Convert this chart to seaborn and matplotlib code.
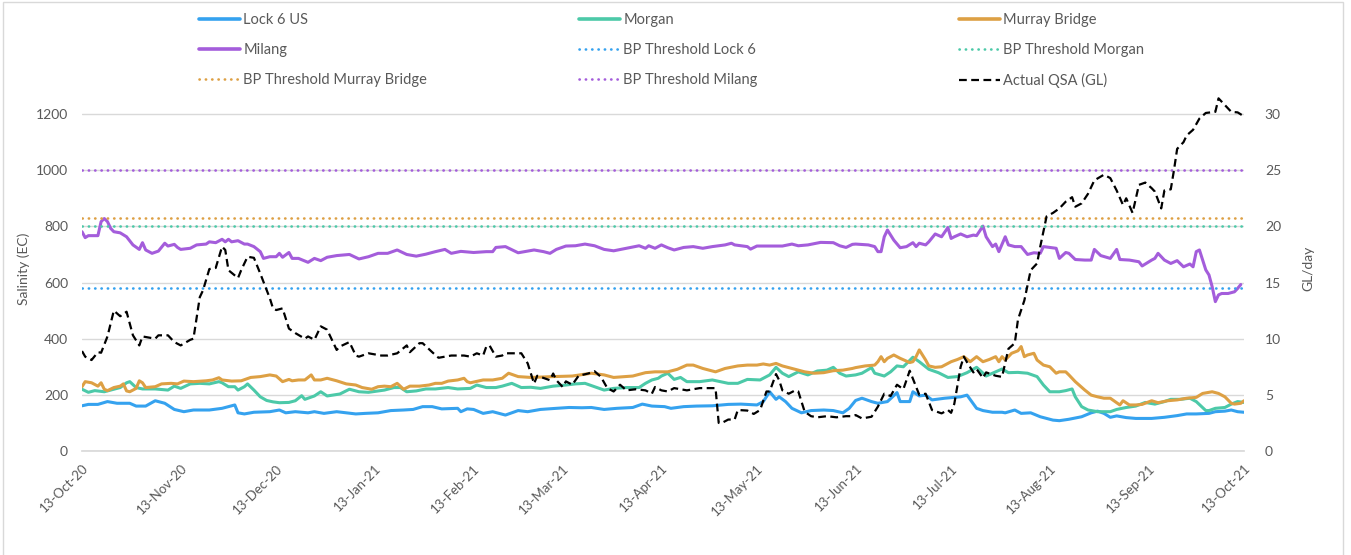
import pandas as pd
import seaborn as sns
import matplotlib
matplotlib.use("Agg")
import matplotlib.pyplot as plt
from matplotlib.lines import Line2D
from matplotlib.patches import Rectangle

sns.set_theme(style="white")
plt.rcParams["font.family"] = ["Lato", "DejaVu Sans"]

START = pd.Timestamp("2020-10-13")

# days since 13-Oct-20 and salinity (EC)
lock6_days = [0, 2, 5, 8, 11, 15, 17, 20, 23, 26, 29, 32, 35, 40, 44, 48, 49, 51, 54, 59,
              62, 64, 67, 71, 73, 76, 80, 83, 86, 89, 93, 97, 101, 104, 107, 110, 113, 118, 119, 121,
              123, 126, 129, 131, 133, 137, 140, 144, 149, 153, 157, 160, 164, 168, 173, 176, 179, 183,
              185, 189, 193, 198, 203, 207, 212, 214, 216, 218, 219, 221, 223, 226, 229, 233, 236, 239, 241, 243,
              245, 248, 250, 253, 256, 257, 260, 261, 263, 265, 267, 271, 274, 276, 278, 281, 283, 286, 289, 290,
              293, 295, 298, 301, 305,
              307, 310, 314, 317, 319, 321, 323, 325, 328, 331, 336, 340, 344, 347, 350, 354, 356, 359, 361, 363, 365]
lock6_ec = [161, 166, 166, 176, 170, 170, 160, 160, 179, 170, 148, 140, 146, 146, 152, 164, 136, 132, 138, 140,
            146, 136, 140, 136, 140, 134, 140, 136, 132, 134, 136, 144, 146, 148, 158, 158, 150, 152, 140, 150,
            148, 134, 140, 134, 128, 144, 140, 148, 152, 155, 154, 155, 148, 152, 155, 167, 160, 158,
            152, 158, 160, 161, 166, 167, 164, 176, 211, 184, 193, 176, 152, 136, 144, 146, 144, 136, 152, 180,
            188, 176, 170, 176, 208, 176, 176, 211, 196, 199, 182, 188, 191, 193, 199, 152, 144, 138, 138, 136,
            146, 134, 136, 122, 110,
            108, 113, 122, 136, 142, 134, 120, 125, 119, 116, 116, 120, 126, 132, 132, 134, 140, 142, 146, 140, 138]

morgan_days = [0, 2, 4, 7, 9, 12, 14, 15, 17, 19, 23, 27, 29, 31, 34, 37, 40, 43, 44, 46, 48, 49, 51, 52, 54, 56, 58,
               60, 62, 65, 67, 69, 70, 73, 75, 77, 81, 84, 87, 90, 95, 98, 100, 102, 105, 108, 111, 115, 118,
               122, 124, 127, 130, 132, 135, 138, 141, 144, 148, 152, 155, 158, 161, 164, 167, 171, 175, 177, 179, 181,
               182, 184, 186, 188, 190, 194, 198, 203, 206, 209, 213, 216, 218, 220, 222, 225, 228, 231, 234, 236, 238, 240, 243,
               245, 248, 249, 252, 254, 256, 258, 261, 263, 266, 269, 272, 275, 278, 281, 282, 284, 287, 289, 291, 294, 297, 300, 302, 304,
               307, 309, 311, 312, 314, 316, 319, 323, 325, 328, 331, 334, 337, 340, 342, 345, 348, 350, 353, 354, 356, 359, 361, 363, 365]
morgan_ec = [220, 209, 215, 211, 217, 226, 243, 247, 226, 221, 221, 217, 231, 223, 239, 241, 239, 247, 243, 229, 229, 217, 229, 239, 217, 193, 180,
             175, 172, 173, 179, 197, 184, 196, 211, 196, 203, 220, 211, 209, 217, 226, 226, 211, 214, 221, 221, 226, 221,
             223, 235, 226, 226, 231, 241, 226, 227, 223, 231, 235, 239, 241, 229, 217, 223, 226, 226, 241, 253, 259,
             267, 277, 255, 262, 247, 247, 253, 241, 241, 255, 253, 271, 298, 277, 265, 282, 271, 285, 288, 298, 277, 267, 271,
             277, 297, 277, 267, 282, 303, 300, 334, 318, 291, 279, 262, 265, 279, 298, 288, 267, 282, 292, 279, 280, 277, 265, 235, 211,
             211, 215, 221, 193, 158, 146, 140, 140, 148, 155, 160, 173, 167, 176, 184, 184, 188, 176, 144, 144, 152, 155, 167, 176, 173]

murray_days = [0, 1, 3, 5, 6, 7, 8, 10, 12, 13, 14, 15, 17, 18, 19, 20, 23, 25, 28, 30, 32, 35, 39, 41, 43, 44, 47, 50, 53, 56,
               59, 61, 63, 65, 66, 68, 70, 72, 73, 75, 77, 80, 83, 86, 88, 91, 93, 95, 97, 99, 101, 103, 106, 109, 111, 113, 115, 118, 120,
               121, 122, 126, 129, 132, 134, 137, 141, 148, 154, 160, 164, 167, 173, 177, 180,
               182, 184, 187, 190, 192, 195, 199, 202, 206, 209, 212, 214, 216, 218, 220, 223, 227, 230, 233, 236, 239, 242,
               243, 246, 249, 250, 251, 252, 253, 255, 257, 260, 261, 262, 263, 265, 266, 268, 270, 272, 273, 275, 277, 279,
               281, 283, 285, 287, 288, 289, 290, 292, 294, 295, 296, 297, 299, 300, 302, 304,
               306, 307, 309, 310, 312, 315, 317, 319, 321, 323, 326, 327, 329, 331, 333, 336, 338, 341, 344, 347, 350,
               352, 355, 357, 359, 361, 362, 364, 365]
murray_ec = [229, 247, 243, 231, 243, 220, 215, 226, 231, 239, 214, 211, 223, 250, 243, 226, 229, 239, 241, 239, 249, 247, 250, 253, 261, 253, 249, 250, 262, 265,
             271, 267, 247, 255, 250, 253, 253, 271, 253, 253, 259, 250, 239, 235, 226, 220, 229, 231, 229, 241, 220, 231, 231, 235, 241, 241, 249, 253, 259,
             247, 243, 253, 253, 259, 277, 265, 262, 265, 267, 277, 271, 262, 267, 279, 282,
             282, 282, 291, 306, 306, 294, 282, 294, 303, 306, 306, 310, 306, 312, 303, 294, 282, 277, 279, 286, 288, 294,
             297, 303, 306, 318, 336, 318, 330, 342, 330, 315, 318, 336, 360, 324, 303, 298, 300, 312, 318, 326, 336, 318,
             336, 318, 326, 336, 318, 336, 324, 348, 357, 372, 336, 342, 348, 324, 306, 300,
             277, 282, 282, 271, 247, 217, 199, 193, 188, 188, 164, 179, 164, 164, 166, 179, 172, 179, 182, 188, 191,
             205, 211, 205, 193, 170, 167, 170, 179]

milang_days = [0, 1, 2, 5, 6, 7, 8, 9, 10, 12, 14, 16, 18, 19, 20, 22, 24, 26, 27, 29, 30, 31, 34, 36, 39, 40, 42, 44, 45, 46, 47, 49, 51, 52, 54, 56, 57,
               59, 61, 62, 63, 65, 66, 68, 71, 73, 75, 77, 80, 84, 87, 90, 93, 96, 99, 102, 105, 108, 111, 114, 116, 119,
               123, 127, 129, 130, 133, 137, 139, 142, 145, 147, 149, 152, 155, 158, 161, 164, 167, 171, 175, 177, 178, 180,
               182, 184, 186, 189, 192, 195, 198, 202, 204, 205, 207, 209, 210, 212, 216, 220, 223, 225, 228, 232, 236, 238, 240, 242,
               243, 247, 249, 250, 251, 252, 253, 255, 257, 259, 261, 262, 263, 265, 266, 268, 270, 272, 273, 274, 276, 278, 280, 281,
               283, 284, 286, 287, 288, 290, 291, 293, 295, 297, 299, 301, 302,
               304, 306, 307, 309, 310, 312, 315, 317, 318, 320, 323, 325, 326, 329, 332, 333, 336, 337, 338, 340, 342, 344, 346,
               348, 349, 350, 351, 352, 353, 354, 355, 356, 357, 358, 360, 362, 363, 364]
milang_ec = [781, 760, 767, 767, 817, 828, 817, 793, 781, 777, 763, 734, 718, 742, 716, 704, 712, 740, 730, 736, 725, 718, 722, 734, 737, 745, 742, 754, 745, 754, 745, 749, 737, 737, 728, 710, 686,
             692, 692, 704, 690, 707, 686, 686, 672, 686, 678, 690, 696, 700, 684, 692, 704, 704, 716, 700, 694, 701, 710, 718, 704, 711,
             707, 710, 710, 725, 728, 706, 710, 716, 710, 704, 718, 730, 731, 737, 731, 718, 713, 722, 731, 722, 731, 722,
             734, 724, 716, 725, 728, 722, 728, 734, 740, 734, 731, 728, 719, 730, 730, 730, 737, 731, 734, 743, 742, 731, 725, 736,
             737, 734, 728, 710, 710, 763, 787, 751, 724, 728, 742, 728, 740, 734, 745, 773, 763, 796, 757, 763, 773, 763, 769, 767,
             801, 763, 728, 737, 710, 763, 734, 728, 728, 700, 706, 704, 728,
             725, 722, 686, 707, 704, 682, 680, 680, 718, 696, 686, 718, 682, 680, 674, 659, 680, 686, 704, 680, 668, 678, 656,
             666, 656, 710, 716, 680, 645, 627, 585, 532, 556, 561, 561, 567, 579, 593]

# Actual QSA (GL/day)
qsa_days = [0, 1, 3, 5, 6, 8, 10, 12, 14, 16, 18, 19, 23, 24, 27, 29, 31, 34, 35, 37, 38, 40, 42, 44, 45, 46, 49, 50, 52, 54, 56, 59,
            60, 61, 63, 65, 67, 70, 71, 73, 75, 77, 80, 81, 84, 86, 87, 90, 94, 96, 99, 102, 103, 106, 107, 110, 112, 116, 120,
            122, 124, 126, 127, 128, 130, 132, 133, 136, 138, 140, 142, 143, 145, 147, 148, 149, 151, 152, 154, 156, 159, 161, 163, 165,
            167, 169, 171, 174, 177, 179, 180, 182,
            184, 186, 190, 194, 199, 200, 201, 203, 205, 206, 209, 211, 213, 215, 216, 218, 219, 220, 222, 224, 225, 227, 229, 231, 234, 237, 240, 242,
            243, 245, 248, 250, 252, 254, 256, 258, 260, 262, 263, 265, 267, 270, 272, 273, 274, 276, 277, 278, 280, 281, 283, 284, 286,
            287, 289, 291, 293, 294, 296, 298, 300, 301, 303, 305,
            307, 309, 311, 312, 314, 316, 318, 321, 323, 325, 327, 328, 330, 332, 334, 336, 337, 339, 340, 342, 343, 344, 346, 347, 349,
            351, 353, 356, 357, 359, 361, 363, 365]
qsa_gl = [8.9, 8.4, 8.1, 8.8, 8.75, 10.2, 12.5, 12.0, 12.4, 10.3, 9.4, 10.2, 10.0, 10.3, 10.3, 9.7, 9.4, 9.9, 10.0, 13.7, 14.3, 16.2, 16.3, 18.2, 17.9, 16.1, 15.4, 16.1, 17.3, 17.2, 15.8, 13.6,
          12.7, 12.55, 12.7, 10.9, 10.5, 10.0, 10.2, 9.9, 11.1, 10.8, 9.0, 9.3, 9.7, 8.5, 8.4, 8.7, 8.5, 8.5, 8.7, 9.4, 8.8, 9.6, 9.6, 8.8, 8.3, 8.5, 8.5,
          8.4, 8.7, 8.5, 9.3, 9.4, 8.4, 8.5, 8.7, 8.7, 8.7, 7.8, 6.0, 6.7, 6.5, 6.3, 6.9, 6.3, 5.7, 6.2, 5.9, 6.7, 6.9, 7.1, 6.6, 5.6,
          5.3, 5.9, 5.4, 5.5, 5.4, 5.1, 5.7, 5.4,
          5.3, 5.6, 5.4, 5.6, 5.6, 2.5, 2.5, 2.8, 2.8, 3.65, 3.6, 3.3, 3.65, 5.3, 5.3, 6.85, 6.3, 5.4, 5.1, 5.4, 5.3, 3.5, 3.1, 3.0, 3.1, 3.0, 3.1, 3.1,
          3.2, 2.9, 3.05, 3.95, 5.1, 4.9, 5.9, 5.5, 7.15, 5.7, 5.0, 5.1, 3.65, 3.35, 3.65, 3.4, 4.2, 7.5, 8.4, 7.9, 7.0, 7.3, 6.5, 7.0, 6.8,
          6.7, 6.6, 9.1, 9.6, 11.7, 13.4, 16.1, 16.7, 18.2, 20.9, 21.2,
          21.6, 22.2, 22.6, 21.75, 22.05, 22.9, 24.1, 24.6, 24.3, 23.2, 21.9, 22.5, 21.2, 23.7, 23.9, 23.4, 23.1, 21.6, 23.2, 23.3, 25.0, 26.9, 27.5, 28.1, 28.6,
          29.6, 30.1, 30.2, 31.4, 30.8, 30.2, 30.15, 29.8]

sites = ["Lock 6 US", "Morgan", "Murray Bridge", "Milang"]
site_colors = ["#35A2EF", "#4CC9A8", "#DDA044", "#A45DDB"]
threshold_labels = ["BP Threshold Lock 6", "BP Threshold Morgan", "BP Threshold Murray Bridge", "BP Threshold Milang"]
threshold_values = [580, 800, 830, 1000]

salinity = pd.concat([
    pd.DataFrame({"site": name, "day": d, "ec": v})
    for name, d, v in zip(sites,
                          [lock6_days, morgan_days, murray_days, milang_days],
                          [lock6_ec, morgan_ec, murray_ec, milang_ec])
])
salinity["date"] = START + pd.to_timedelta(salinity["day"], unit="D")
qsa = pd.DataFrame({"day": qsa_days, "gl": qsa_gl})
qsa["date"] = START + pd.to_timedelta(qsa["day"], unit="D")

W, H = 1351, 555
fig = plt.figure(figsize=(W / 100, H / 100), dpi=100)
ax = fig.add_axes([82 / W, 1 - 451 / H, 1162 / W, 365 / H])
ax2 = ax.twinx()

grey = "#595959"
grid = "#D9D9D9"
dots = (0, (0.1, 2.3))

sns.lineplot(data=salinity, x="date", y="ec", hue="site", hue_order=sites,
             palette=dict(zip(sites, site_colors)), estimator=None, sort=False,
             lw=2.2, legend=False, ax=ax)
for val, col in zip(threshold_values, site_colors):
    ax.axhline(val, color=col, lw=1.9, linestyle=dots, dash_capstyle="round")

sns.lineplot(data=qsa, x="date", y="gl", color="black", lw=1.6,
             linestyle=(0, (3.5, 2)), estimator=None, sort=False, ax=ax2)

ax.set_xlim(START, START + pd.Timedelta(days=365))
ax.set_ylim(0, 1300)
ax2.set_ylim(0, 32.5)
ax.set_yticks(range(0, 1201, 200))
ax2.set_yticks(range(0, 31, 5))
month_ticks = [START + pd.DateOffset(months=i) for i in range(13)]
ax.set_xticks(month_ticks)
ax.set_xticklabels([t.strftime("%d-%b-%y") for t in month_ticks], rotation=45,
                   ha="right", rotation_mode="anchor")

ax.grid(axis="y", color=grid, lw=1)
ax.grid(axis="x", visible=False)
ax2.grid(False)
for a in (ax, ax2):
    for s in ("top", "left", "right", "bottom"):
        a.spines[s].set_visible(False)
ax.spines["bottom"].set_visible(True)
ax.spines["bottom"].set_color(grid)
ax.tick_params(axis="x", length=5, color=grid, width=1, labelsize=9.5, labelcolor=grey, pad=3)
ax.tick_params(axis="y", length=0, labelsize=10, labelcolor=grey, pad=10)
ax2.tick_params(axis="y", length=0, labelsize=10, labelcolor=grey, pad=15)

ax.set_xlabel("")
ax.set_ylabel("Salinity (EC)", color=grey, fontsize=10)
ax.yaxis.set_label_coords(-0.045, 0.5)
ax2.set_ylabel("GL/day", color=grey, fontsize=10)
ax2.yaxis.set_label_coords(1.050, 0.5)

# legend, three columns in the Excel row order
solid = [Line2D([], [], color=c, lw=2.6) for c in site_colors]
dotted = [Line2D([], [], color=c, lw=1.9, linestyle=dots, dash_capstyle="round") for c in site_colors]
qsa_handle = Line2D([], [], color="black", lw=1.6, linestyle=(0, (3.5, 2)))
handles = solid + dotted + [qsa_handle]
labels = sites + threshold_labels + ["Actual QSA (GL)"]
for col, x0 in enumerate([199, 579, 959]):
    idx = [col, col + 3, col + 6]
    fig.legend([handles[i] for i in idx], [labels[i] for i in idx],
               loc="upper left", bbox_to_anchor=(x0 / W, 1 - 13 / H),
               frameon=False, fontsize=10.5, labelcolor=grey, handlelength=2.8,
               handletextpad=0.25, labelspacing=1.1, borderpad=0, borderaxespad=0)

fig.patches.append(Rectangle((3 / W, -0.01), 1340 / W, 1.01 - 2 / H, transform=fig.transFigure,
                             fill=False, ec=grid, lw=1))

fig.savefig("out.png", dpi=100)
